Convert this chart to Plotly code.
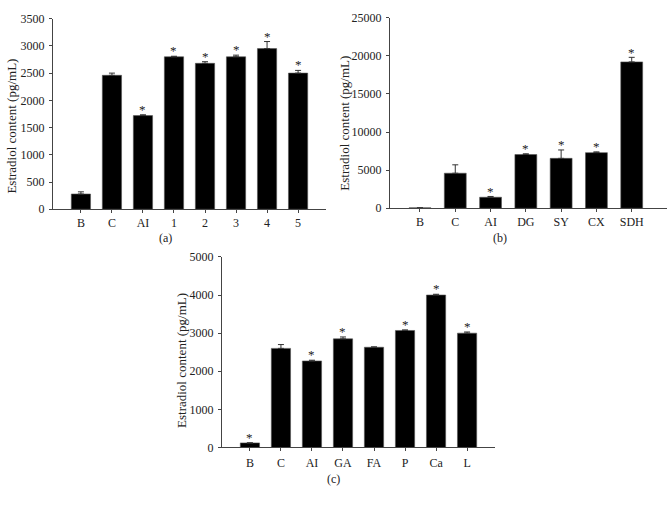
import plotly.graph_objects as go

# Panel (a)
cat_a = ["B", "C", "AI", "1", "2", "3", "4", "5"]
val_a = [280, 2460, 1720, 2800, 2680, 2800, 2950, 2500]
err_a = [40, 40, 15, 10, 30, 30, 130, 50]
sig_a = [False, False, True, True, True, True, True, True]

# Panel (b)
cat_b = ["B", "C", "AI", "DG", "SY", "CX", "SDH"]
val_b = [60, 4600, 1450, 7050, 6550, 7300, 19200]
err_b = [0, 1100, 100, 100, 1100, 100, 600]
sig_b = [False, False, True, True, True, True, True]

# Panel (c)
cat_c = ["B", "C", "AI", "GA", "FA", "P", "Ca", "L"]
val_c = [120, 2600, 2270, 2850, 2630, 3070, 4000, 3000]
err_c = [0, 100, 20, 50, 10, 15, 20, 30]
sig_c = [True, False, True, True, False, True, True, True]

FONT = "Liberation Serif, Times New Roman, serif"
TXT = "#222"
W, H = 669, 507

panels = [
    dict(cats=cat_a, vals=val_a, errs=err_a, sig=sig_a, x="x", y="y",
         xd=[53 / W, 326 / W], yd=[1 - 208 / H, 1 - 12 / H],
         yr=[0, 3500], dt=500, xr=[-0.9, 7.9], star=100, xstand=-1,
         cap="(a)", capx=165, capy=238, tx=12, ty=123),
    dict(cats=cat_b, vals=val_b, errs=err_b, sig=sig_b, x="x2", y="y2",
         xd=[390 / W, 667 / W], yd=[1 - 207 / H, 1 - 11 / H],
         yr=[0, 25000], dt=5000, xr=[-0.85, 7.0], star=700, xstand=-1,
         cap="(b)", capx=500, capy=238, tx=345, ty=120),
    dict(cats=cat_c, vals=val_c, errs=err_c, sig=sig_c, x="x3", y="y3",
         xd=[222 / W, 495 / W], yd=[1 - 453 / H, 1 - 257 / H],
         yr=[0, 5000], dt=1000, xr=[-0.9, 7.9], star=140, xstand=1,
         cap="(c)", capx=333, capy=485, tx=182, ty=364),
]

fig = go.Figure()
layout = dict(
    width=W, height=H, margin=dict(l=0, r=0, t=0, b=0),
    paper_bgcolor="white", plot_bgcolor="white", showlegend=False,
    font=dict(family=FONT, size=12, color=TXT),
)
annotations = []
for i, p in enumerate(panels):
    n = len(p["cats"])
    xs = list(range(n))
    fig.add_trace(go.Bar(
        x=xs, y=p["vals"], xaxis=p["x"], yaxis=p["y"],
        marker=dict(color="black", line=dict(color="#555", width=0.6)),
        width=0.62,
        error_y=dict(type="data", array=p["errs"], arrayminus=[0] * n, symmetric=False,
                     color="#333", thickness=1, width=3),
    ))
    for x, v, e, s in zip(xs, p["vals"], p["errs"], p["sig"]):
        if s:
            annotations.append(dict(text="*", x=x, y=v + e + p["star"], xref=p["x"], yref=p["y"],
                                    showarrow=False, xanchor="center", yanchor="middle",
                                    font=dict(family=FONT, size=13, color=TXT)))
    suffix = "" if i == 0 else str(i + 1)
    layout["xaxis" + suffix] = dict(
        domain=p["xd"], anchor=p["y"], range=p["xr"],
        tickmode="array", tickvals=xs, ticktext=p["cats"],
        showline=True, linecolor="#444", linewidth=1,
        ticks="outside", ticklen=3, tickcolor="#444", ticklabelstandoff=p["xstand"],
        showgrid=False, zeroline=False, fixedrange=True,
        tickfont=dict(family=FONT, size=12, color=TXT),
    )
    layout["yaxis" + suffix] = dict(
        domain=p["yd"], anchor=p["x"], range=p["yr"], dtick=p["dt"], tickformat="d",
        showline=True, linecolor="#444", linewidth=1,
        ticks="outside", ticklen=3, tickcolor="#444", ticklabelstandoff=2,
        showgrid=False, zeroline=False, fixedrange=True,
        tickfont=dict(family=FONT, size=12, color=TXT),
    )
    annotations.append(dict(text=p["cap"], x=p["capx"] / W, y=1 - p["capy"] / H,
                            xref="paper", yref="paper", showarrow=False,
                            xanchor="center", yanchor="middle",
                            font=dict(family=FONT, size=12, color=TXT)))
    annotations.append(dict(text="Estradiol content (pg/mL)", x=p["tx"] / W, y=1 - p["ty"] / H,
                            xref="paper", yref="paper", showarrow=False, textangle=-90,
                            xanchor="center", yanchor="middle",
                            font=dict(family=FONT, size=13, color=TXT)))
layout["annotations"] = annotations
fig.update_layout(**layout)
fig.write_html("out.html", config={"displayModeBar": False},
               post_script="document.body.style.margin='0';document.body.style.padding='0';")
